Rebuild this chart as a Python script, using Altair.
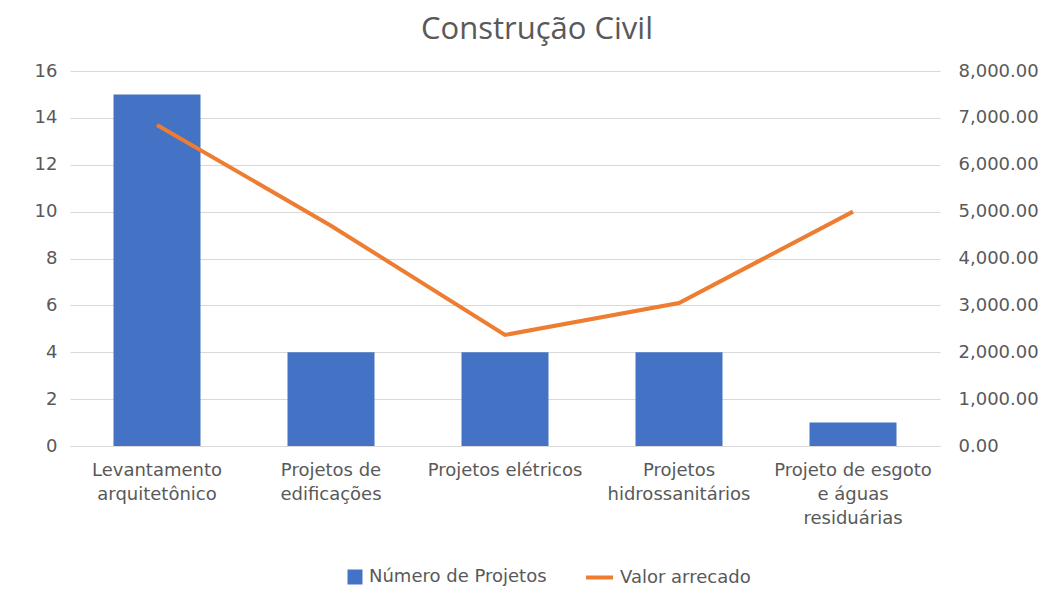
import altair as alt
import pandas as pd

categories = [
    "Levantamento arquitetônico",
    "Projetos de edificações",
    "Projetos elétricos",
    "Projetos hidrossanitários",
    "Projeto de esgoto e águas residuárias",
]
label_lines = [
    ["Levantamento", "arquitetônico"],
    ["Projetos de", "edificações"],
    ["Projetos elétricos"],
    ["Projetos", "hidrossanitários"],
    ["Projeto de esgoto", "e águas", "residuárias"],
]
num_projetos = [15, 4, 4, 4, 1]
valor_arrecado = [6850, 4700, 2370, 3050, 5000]

bar_name = "Número de Projetos"
line_name = "Valor arrecado"

df = pd.DataFrame({
    "categoria": categories,
    "projetos": num_projetos,
    "valor": valor_arrecado,
    "serie_bar": bar_name,
    "serie_line": line_name,
})

label_map = "{" + ", ".join(
    f"'{c}': [" + ", ".join(f"'{p}'" for p in parts) + "]"
    for c, parts in zip(categories, label_lines)
) + "}"

FONT = "DejaVu Sans"
GREY = "#595959"
FS = 18

x = alt.X(
    "categoria:N",
    sort=categories,
    title=None,
    scale=alt.Scale(paddingInner=0.5, paddingOuter=0.25),
    axis=alt.Axis(
        labelAngle=0,
        labelExpr=f"{label_map}[datum.label]",
        labelFontSize=FS,
        labelColor=GREY,
        labelFont=FONT,
        labelPadding=15,
        labelLineHeight=24,
        labelLimit=300,
        ticks=False,
        domainColor="#d9d9d9",
        labelBaseline="top",
    ),
)

bars = alt.Chart(df).mark_bar(color="#4472C4").encode(
    x=x,
    y=alt.Y(
        "projetos:Q",
        title=None,
        scale=alt.Scale(domain=[0, 16]),
        axis=alt.Axis(
            values=[0, 2, 4, 6, 8, 10, 12, 14, 16],
            ticks=False,
            domain=False,
            labelFontSize=FS,
            labelColor=GREY,
            labelFont=FONT,
            labelPadding=13,
            gridColor="#d9d9d9",
        ),
    ),
    fill=alt.Fill(
        "serie_bar:N",
        scale=alt.Scale(domain=[bar_name], range=["#4472C4"]),
        legend=alt.Legend(
            title=None,
            orient="none",
            legendX=276,
            legendY=497,
            symbolType="square",
            symbolSize=225,
            labelFontSize=FS,
            labelColor=GREY,
            labelFont=FONT,
            labelOffset=5,
            labelLimit=400,
            symbolStrokeWidth=0,
        ),
    ),
)

line = alt.Chart(df).mark_line(strokeWidth=4).encode(
    x=x,
    y=alt.Y(
        "valor:Q",
        title=None,
        scale=alt.Scale(domain=[0, 8000]),
        axis=alt.Axis(
            orient="right",
            values=[0, 1000, 2000, 3000, 4000, 5000, 6000, 7000, 8000],
            format=",.2f",
            ticks=False,
            domain=False,
            grid=False,
            labelFontSize=FS,
            labelColor=GREY,
            labelFont=FONT,
            labelPadding=18,
        ),
    ),
    stroke=alt.Stroke(
        "serie_line:N",
        scale=alt.Scale(domain=[line_name], range=["#ED7D31"]),
        legend=alt.Legend(
            title=None,
            orient="none",
            legendX=514,
            legendY=491,
            symbolType="stroke",
            symbolStrokeWidth=4,
            symbolSize=729,
            labelFontSize=FS,
            labelColor=GREY,
            labelFont=FONT,
            labelOffset=5,
            labelLimit=400,
        ),
    ),
)

chart = (
    alt.layer(bars, line)
    .resolve_scale(y="independent")
    .properties(
        width=870,
        height=375,
        title=alt.TitleParams(
            "Construção Civil",
            fontSize=31,
            font="Open Sans",
            fontWeight="normal",
            color=GREY,
            anchor="middle",
            dx=32,
            offset=16,
        ),
        padding={"left": 26, "top": 6, "right": 10, "bottom": 10},
        background="white",
    )
    .configure_view(stroke=None)
)

chart.save("out.html", embed_options={"renderer": "svg", "actions": False})
